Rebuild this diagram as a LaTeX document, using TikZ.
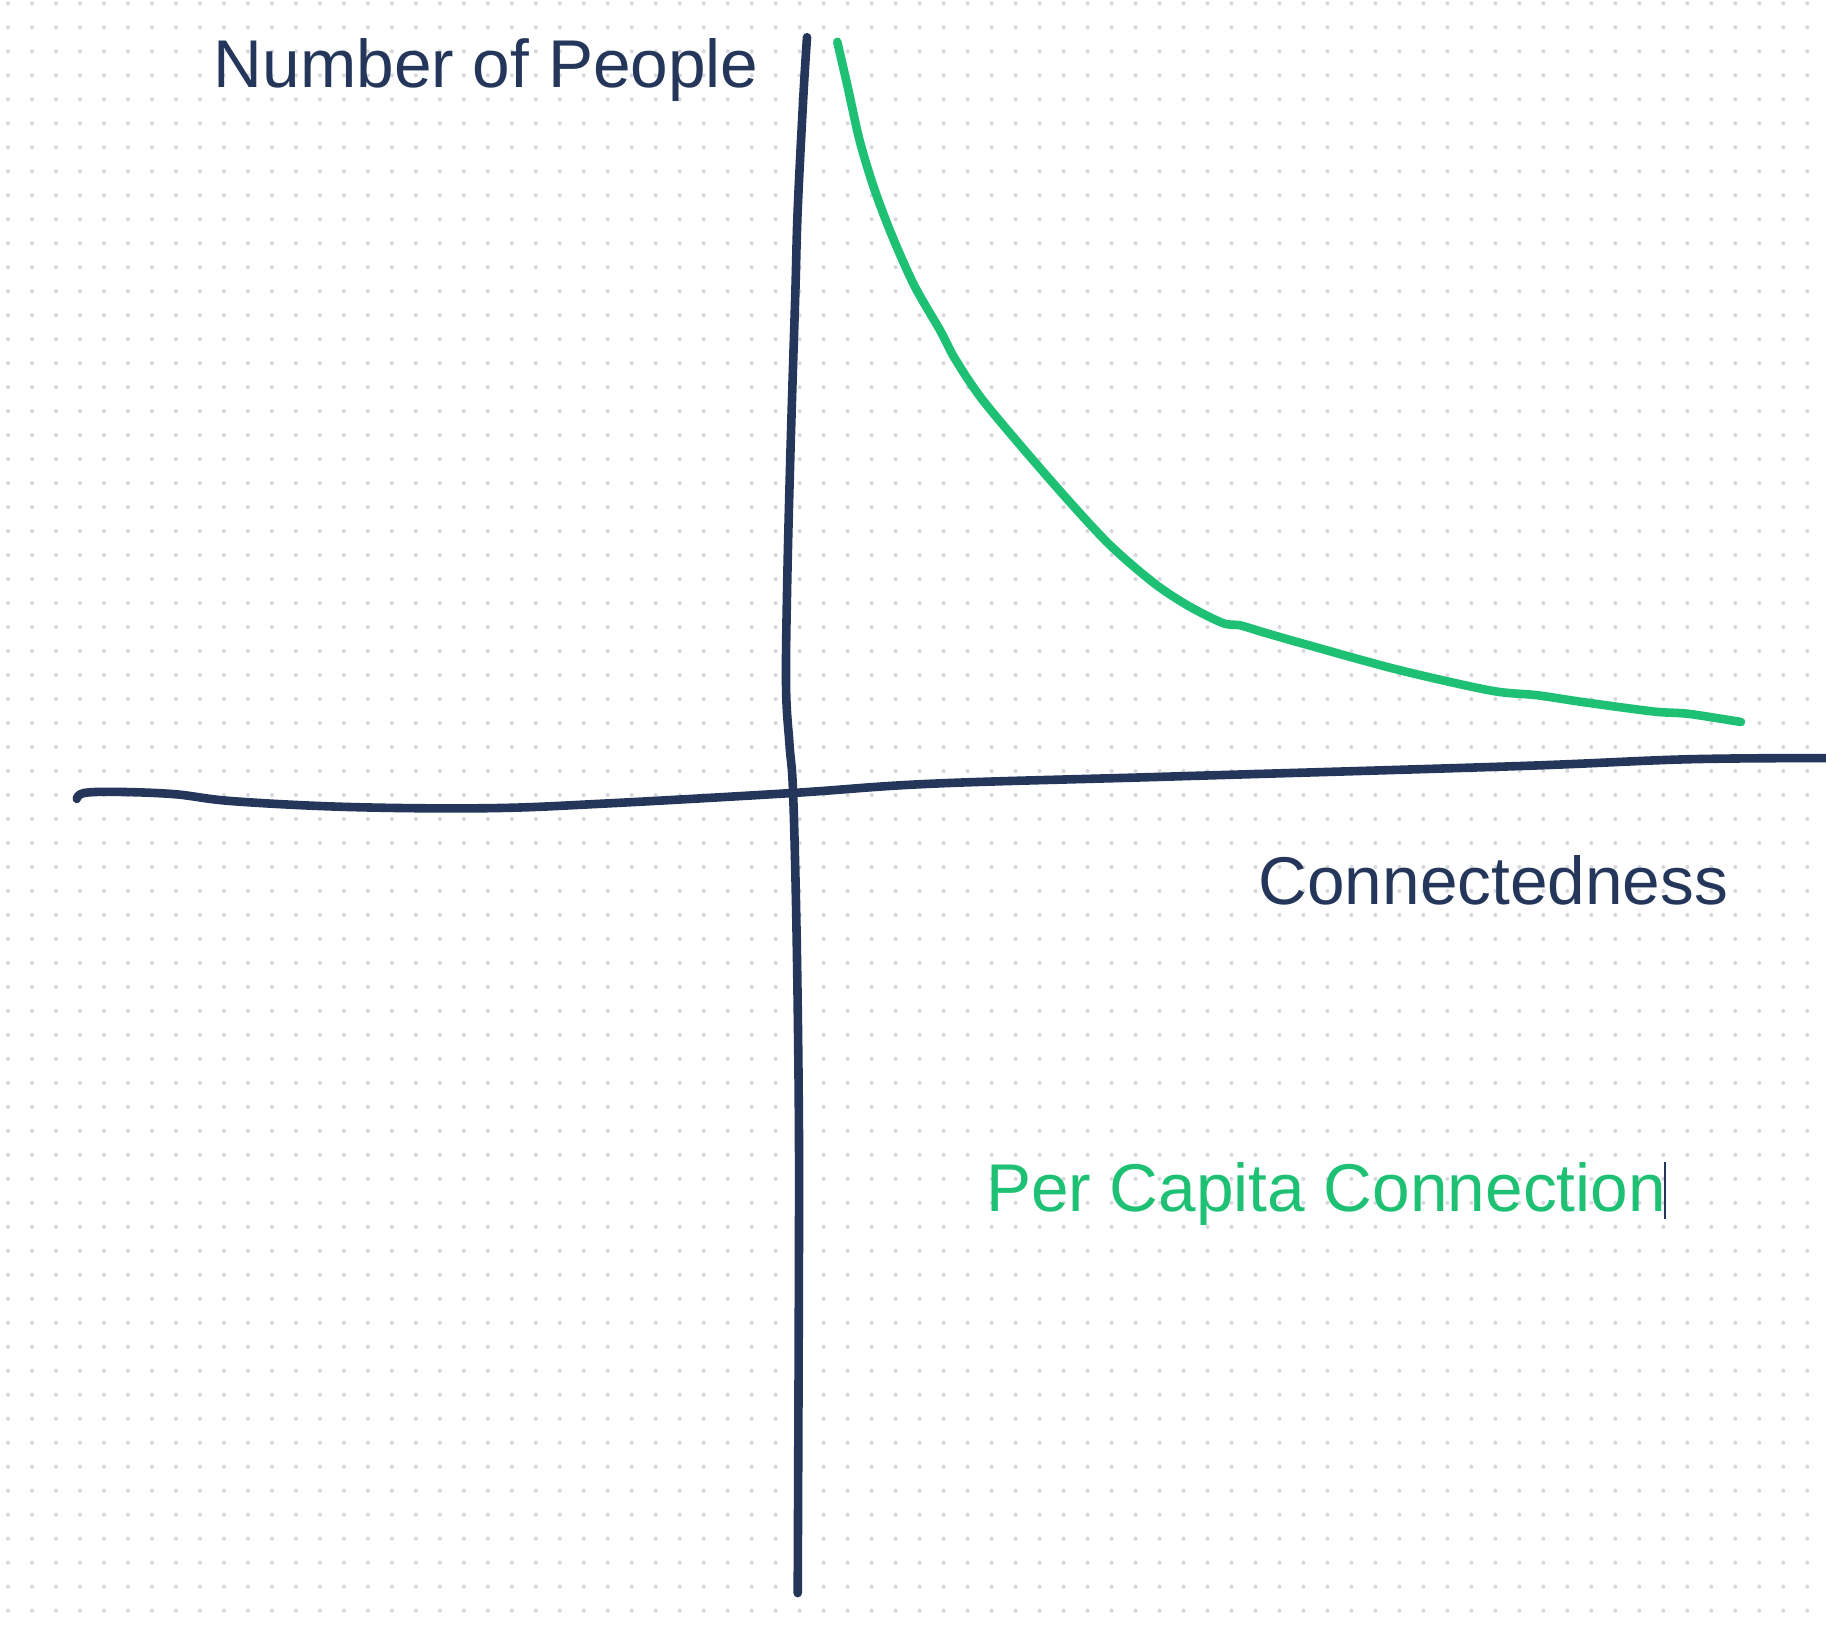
\documentclass[tikz,border=0pt]{standalone}
\usepackage{fontspec}
\setmainfont{Liberation Sans}
\definecolor{axisnavy}{HTML}{24365A}
\definecolor{curvegreen}{HTML}{1EC174}
\definecolor{dotgray}{HTML}{D6D8DD}
\tikzset{
  axisline/.style={draw=axisnavy, line width=2.1pt, line cap=round, line join=round},
  curveline/.style={draw=curvegreen, line width=2.1pt, line cap=round, line join=round},
  axislabel/.style={text=axisnavy, anchor=base west, inner sep=0pt, font=\fontsize{16.5}{20}\selectfont},
  curvelabel/.style={text=curvegreen, anchor=base west, inner sep=0pt, font=\fontsize{16.5}{20}\selectfont},
}
\begin{document}
\begin{tikzpicture}[x=0.01cm, y=-0.01cm]
      \useasboundingbox (0,0) rectangle (1568,1398);
      \fill[white] (0,0) rectangle (1568,1398);
      % dot grid
      \foreach \i in {0,...,75}
        \foreach \j in {0,...,67}
          \fill[dotgray] (6.9+20.6*\i, 2.9+20.6*\j) circle[radius=0.5pt];
      % axes
      \draw[axisline] plot[smooth, tension=0.6] coordinates {
        (693,32) (690,80) (685,180) (683,250) (679,380) (676,500) (675,590)
        (678,640) (681,680) (684,800) (686,960) (686,1100) (685,1368)};
      \draw[axisline] plot[smooth, tension=0.6] coordinates {
        (66,686) (72,681) (100,680) (150,682) (200,688) (300,693) (420,694)
        (520,690) (680,681) (800,673) (1000,667) (1300,658) (1450,652) (1575,651)};
      % per capita curve
      \draw[curveline] plot[smooth, tension=0.5] coordinates {
        (719,36) (728,75) (738,120) (750,160) (765,200) (785,245) (808,285)
        (820,308) (845,345) (900,410) (950,465) (990,500) (1020,520) (1050,535)
        (1065,537) (1085,543) (1120,553) (1200,575) (1280,593) (1320,597)
        (1360,603) (1420,611) (1450,613) (1495,620)};
      % labels
      \node[axislabel] (people) at (183,75) {Number of People};
      \node[axislabel] (connected) at (1080,777) {Connectedness};
      \node[curvelabel] (percapita) at (846,1040) {Per Capita Connection};
      \coordinate (cursortop) at (1430,998);
      \coordinate (cursorbot) at (1430,1047);
      \draw[axisnavy, line width=0.5pt] (cursortop) -- (cursorbot);
    \end{tikzpicture}
\end{document}
